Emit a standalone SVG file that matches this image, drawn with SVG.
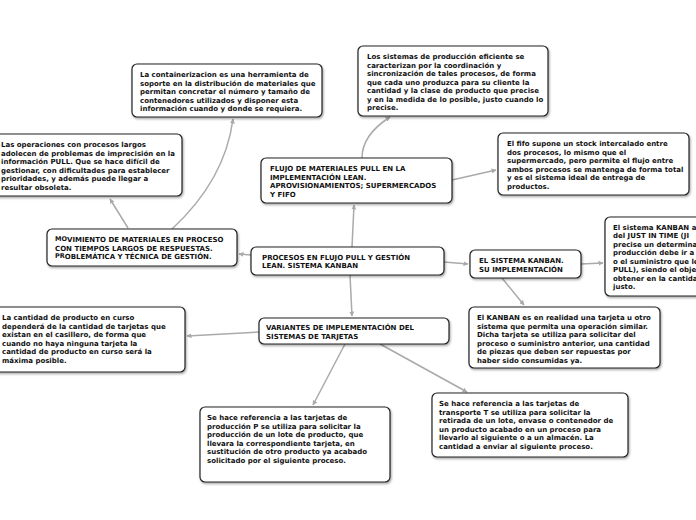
<svg xmlns="http://www.w3.org/2000/svg" width="696" height="520" viewBox="0 0 696 520">
<defs>
<marker id="ah" viewBox="0 0 10 10" refX="9" refY="5" markerWidth="5" markerHeight="5" orient="auto-start-reverse" markerUnits="userSpaceOnUse">
<path d="M0,0 L10,5 L0,10 z" fill="#aaaaaa"/>
</marker>
<filter id="sh" x="-10%" y="-10%" width="120%" height="130%">
<feDropShadow dx="1" dy="1.5" stdDeviation="1" flood-color="#000" flood-opacity="0.35"/>
</filter>
<style>
.box{fill:#fff;stroke:#222;stroke-width:1.2;filter:url(#sh)}
.t{font-family:"DejaVu Sans","Verdana",sans-serif;font-weight:bold;font-size:7px;fill:#111}
.c{fill:none;stroke:#aaaaaa;stroke-width:1.5;marker-end:url(#ah)}
</style>
</defs>
<rect width="696" height="520" fill="#fff"/>
<g id="connectors">
<path class="c" d="M352,247 L354,205"/>
<path class="c" d="M251,255 L239,254"/>
<path class="c" d="M444,262 L468,264"/>
<path class="c" d="M350,275 L352,316"/>
<path class="c" d="M452,180 L496,170"/>
<path class="c" d="M362,158 Q362,135 390,117"/>
<path class="c" d="M172,229 Q225,180 233,119"/>
<path class="c" d="M128,228 L110,199"/>
<path class="c" d="M581,264 L603,263"/>
<path class="c" d="M502,278 L524,305"/>
<path class="c" d="M259,332 L187,336"/>
<path class="c" d="M345,344 L313,405"/>
<path class="c" d="M380,344 L467,392"/>
</g>
<g id="n1">
<rect class="box" x="132" y="64" width="190" height="53" rx="5"/>
<text class="t" x="140" y="77">La containerizacion es una herramienta de</text>
<text class="t" x="140" y="85.5">soporte en la distribución de materiales que</text>
<text class="t" x="140" y="94">permitan concretar el número y  tamaño de</text>
<text class="t" x="140" y="102.5">contenedores utilizados y disponer esta</text>
<text class="t" x="140" y="111">información cuando y donde se requiera.</text>
</g>
<g id="n2">
<rect class="box" x="358" y="46" width="190" height="70" rx="5"/>
<text class="t" x="367" y="59">Los sistemas de producción eficiente se</text>
<text class="t" x="367" y="67.5">caracterizan por la coordinación y</text>
<text class="t" x="367" y="76">sincronización de tales procesos, de forma</text>
<text class="t" x="367" y="84.5">que cada uno produzca para su cliente la</text>
<text class="t" x="367" y="93">cantidad y la clase de producto  que precise</text>
<text class="t" x="367" y="101.5">y en la medida de lo posible, justo cuando lo</text>
<text class="t" x="367" y="110">precise.</text>
</g>
<g id="n3">
<rect class="box" x="-10" y="134" width="192" height="62" rx="5"/>
<text class="t" x="1" y="147">Las operaciones con procesos largos</text>
<text class="t" x="1" y="155.5">adolecen de problemas de imprecisión en la</text>
<text class="t" x="1" y="164">información  PULL. Que se hace difícil de</text>
<text class="t" x="1" y="172.5">gestionar, con dificultades para establecer</text>
<text class="t" x="1" y="181">prioridades, y además puede llegar a</text>
<text class="t" x="1" y="189.5">resultar obsoleta.</text>
</g>
<g id="n4">
<rect class="box" x="261" y="158" width="191" height="45" rx="5"/>
<text class="t" x="270" y="171">FLUJO DE MATERIALES PULL EN LA</text>
<text class="t" x="270" y="179.5">IMPLEMENTACIÓN LEAN.</text>
<text class="t" x="270" y="188">APROVISIONAMIENTOS; SUPERMERCADOS</text>
<text class="t" x="270" y="196.5">Y FIFO</text>
</g>
<g id="n5">
<rect class="box" x="498" y="133" width="191" height="62" rx="5"/>
<text class="t" x="507" y="146">El fifo supone un stock  intercalado entre</text>
<text class="t" x="507" y="154.5">dos procesos, lo mismo que el</text>
<text class="t" x="507" y="163">supermercado, pero permite el flujo entre</text>
<text class="t" x="507" y="171.5">ambos procesos se mantenga de forma total</text>
<text class="t" x="507" y="180">y es el sistema ideal de entrega de</text>
<text class="t" x="507" y="188.5">productos.</text>
</g>
<g id="n6">
<rect class="box" x="47" y="229" width="190" height="37" rx="5"/>
<text class="t" x="55" y="242"><tspan font-size="6.5" dy="-0.6">MO</tspan><tspan dy="0.6">VIMIENTO DE MATERIALES EN PROCESO</tspan></text>
<text class="t" x="55" y="250.5">CON TIEMPOS LARGOS DE RESPUESTAS.</text>
<text class="t" x="55" y="259"><tspan font-size="6.5" dy="-0.6">PR</tspan><tspan dy="0.6">OBLEMÁTICA Y TÉCNICA DE GESTIÓN.</tspan></text>
</g>
<g id="n7">
<rect class="box" x="251" y="247" width="193" height="28" rx="5"/>
<text class="t" x="262" y="259.5">PROCESOS EN FLUJO PULL Y GESTIÓN</text>
<text class="t" x="262" y="268">LEAN. SISTEMA KANBAN</text>
</g>
<g id="n8">
<rect class="box" x="470" y="250" width="111" height="28" rx="5"/>
<text class="t" x="479" y="263">EL SISTEMA KANBAN.</text>
<text class="t" x="479" y="271.5">SU IMPLEMENTACIÓN</text>
</g>
<g id="n9">
<rect class="box" x="605" y="217" width="110" height="79" rx="5"/>
<text class="t" x="613" y="229.5">El sistema KANBAN a</text>
<text class="t" x="613" y="238">del JUST IN TIME (JI</text>
<text class="t" x="613" y="246.5">precise un determina</text>
<text class="t" x="613" y="255">producción debe ir a</text>
<text class="t" x="613" y="263.5">o el suministro que le</text>
<text class="t" x="613" y="272">PULL), siendo el obje</text>
<text class="t" x="613" y="280.5">obtener en  la cantida</text>
<text class="t" x="613" y="289">justo.</text>
</g>
<g id="n10">
<rect class="box" x="-10" y="307" width="195" height="65" rx="5"/>
<text class="t" x="2" y="320">La cantidad de producto en curso</text>
<text class="t" x="2" y="328.5">dependerá de la cantidad de tarjetas que</text>
<text class="t" x="2" y="337">existan en el casillero, de forma que</text>
<text class="t" x="2" y="345.5">cuando no haya ninguna tarjeta la</text>
<text class="t" x="2" y="354">cantidad de producto en curso será la</text>
<text class="t" x="2" y="362.5">máxima posible.</text>
</g>
<g id="n11">
<rect class="box" x="259" y="318" width="190" height="26" rx="5"/>
<text class="t" x="266" y="330">VARIANTES DE IMPLEMENTACIÓN DEL</text>
<text class="t" x="266" y="338.5">SISTEMAS DE TARJETAS</text>
</g>
<g id="n12">
<rect class="box" x="469" y="307" width="191" height="61" rx="5"/>
<text class="t" x="477" y="320">El KANBAN es en realidad una tarjeta u otro</text>
<text class="t" x="477" y="328.5">sistema que permita una operación similar.</text>
<text class="t" x="477" y="337">Dicha tarjeta se utiliza para solicitar del</text>
<text class="t" x="477" y="345.5">proceso o suministro anterior, una cantidad</text>
<text class="t" x="477" y="354">de piezas que deben ser repuestas por</text>
<text class="t" x="477" y="362.5">haber sido consumidas ya.</text>
</g>
<g id="n13">
<rect class="box" x="200" y="407" width="190" height="75" rx="5"/>
<text class="t" x="207" y="420">Se hace referencia a las tarjetas de</text>
<text class="t" x="207" y="428.5">producción P se utiliza para solicitar la</text>
<text class="t" x="207" y="437">producción de un lote de producto, que</text>
<text class="t" x="207" y="445.5">llevara la correspondiente tarjeta, en</text>
<text class="t" x="207" y="454">sustitución de otro producto ya acabado</text>
<text class="t" x="207" y="462.5">solicitado por el siguiente proceso.</text>
</g>
<g id="n14">
<rect class="box" x="432" y="393" width="196" height="64" rx="5"/>
<text class="t" x="439" y="406">Se hace referencia a las tarjetas de</text>
<text class="t" x="439" y="414.5">transporte T se utiliza para solicitar la</text>
<text class="t" x="439" y="423">retirada de un lote, envase o contenedor de</text>
<text class="t" x="439" y="431.5">un producto acabado en un proceso para</text>
<text class="t" x="439" y="440">llevarlo al siguiente o a un almacén. La</text>
<text class="t" x="439" y="448.5">cantidad a enviar al siguiente proceso.</text>
</g>
</svg>
